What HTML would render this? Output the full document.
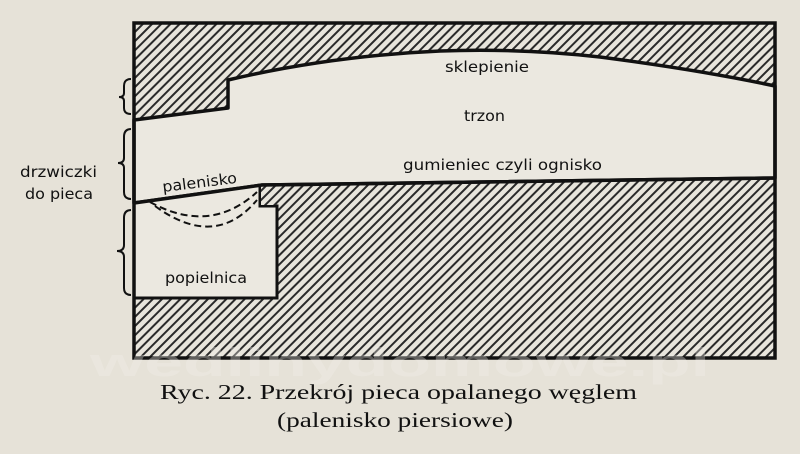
<!DOCTYPE html>
<html><head><meta charset="utf-8"><style>
html,body{margin:0;padding:0;background:#e6e2d8;}
svg{display:block}
</style></head><body>
<svg width="800" height="454" viewBox="0 0 800 454" xmlns="http://www.w3.org/2000/svg">
<defs>
<pattern id="h" patternUnits="userSpaceOnUse" width="6.5" height="6.5" patternTransform="rotate(45)">
<rect width="6.5" height="6.5" fill="#e8e5dc"/>
<rect x="0" y="0" width="2" height="6.5" fill="#2a2a2a"/>
</pattern>
</defs>
<rect width="800" height="454" fill="#e6e2d8"/>
<rect x="134" y="23" width="641" height="335" fill="url(#h)"/>
<path d="M134,120 L228,108 L228,80 Q330,56 440,51 Q520,48 600,57 Q700,70 775,86 L775,178 L262,185 L134,203 Z" fill="#ebe8e0" stroke="#111" stroke-width="3.5" stroke-linejoin="round"/>
<path d="M134,203 L262,185 L262,206 L277,206 L277,298 L134,298 Z" fill="#ebe8e0"/>
<path d="M260,186 L260,206 L277,206 L277,298 L134,298" fill="none" stroke="#111" stroke-width="3"/>
<rect x="261" y="185" width="15" height="20" fill="url(#h)"/>
<path d="M134,203 L262,185 L775,178" fill="none" stroke="#111" stroke-width="3.5"/>
<path d="M150,202 Q210,235 257,192" fill="none" stroke="#111" stroke-width="2" stroke-dasharray="7,4"/>
<path d="M155,206 Q215,250 257,200" fill="none" stroke="#111" stroke-width="2" stroke-dasharray="7,4"/>
<rect x="134" y="23" width="641" height="335" fill="none" stroke="#111" stroke-width="3.5"/>
<g fill="none" stroke="#111" stroke-width="2">
<path d="M131,79 Q124,79 124,86 L124,93 Q124,97 119,97 Q124,97 124,101 L124,108 Q124,114 131,114"/>
<path d="M131,129 Q124,129 124,137 L124,158 Q124,163 118,163 Q124,163 124,168 L124,192 Q124,199 131,199"/>
<path d="M131,210 Q124,210 124,218 L124,245 Q124,251 117,251 Q124,251 124,257 L124,288 Q124,295 131,295"/>
</g>
<g font-family="'DejaVu Sans','Liberation Sans',sans-serif" font-size="15" fill="#111" lengthAdjust="spacingAndGlyphs">
<text x="20" y="177" textLength="77" lengthAdjust="spacingAndGlyphs">drzwiczki</text>
<text x="25" y="199" textLength="68" lengthAdjust="spacingAndGlyphs">do pieca</text>
<text x="445" y="72" textLength="84" lengthAdjust="spacingAndGlyphs">sklepienie</text>
<text x="464" y="121" textLength="41" lengthAdjust="spacingAndGlyphs">trzon</text>
<text x="403" y="170" textLength="199" lengthAdjust="spacingAndGlyphs">gumieniec czyli ognisko</text>
<text x="163" y="192" transform="rotate(-7 163 192)" textLength="75" lengthAdjust="spacingAndGlyphs">palenisko</text>
<text x="165" y="283" textLength="82" lengthAdjust="spacingAndGlyphs">popielnica</text>
</g>
<text x="400" y="376" text-anchor="middle" font-family="'Liberation Sans',sans-serif" font-size="40" font-weight="bold" fill="#f2f0ea" opacity="0.35" textLength="620" lengthAdjust="spacingAndGlyphs">wedlinydomowe.pl</text>
<g font-family="'Liberation Serif',serif" font-size="21" fill="#111">
<text x="160" y="399" textLength="477" lengthAdjust="spacingAndGlyphs">Ryc. 22. Przekrój pieca opalanego węglem</text>
<text x="277" y="427" textLength="236" lengthAdjust="spacingAndGlyphs">(palenisko piersiowe)</text>
</g>
</svg>
</body></html>
